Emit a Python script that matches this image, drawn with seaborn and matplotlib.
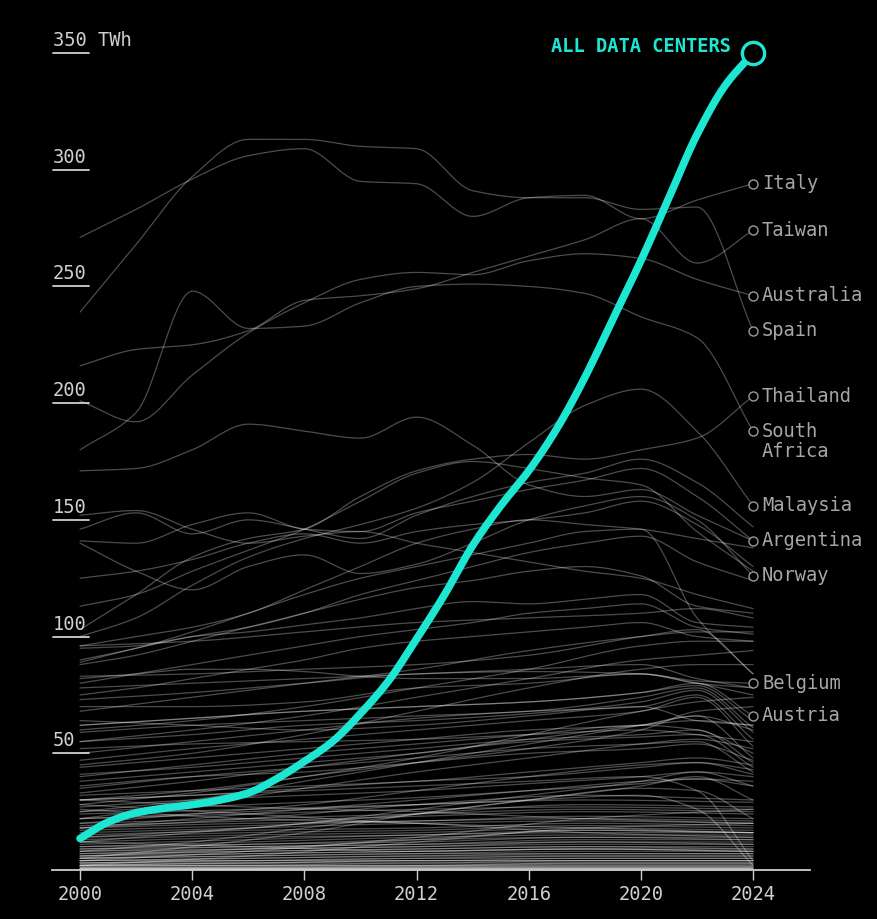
import numpy as np
import pandas as pd
import matplotlib
matplotlib.use("Agg")
import matplotlib.pyplot as plt
import seaborn as sns

# ---------------- data ----------------
years_total = list(range(2000, 2025))
all_data_centers = [13.5, 20.5, 24.5, 26.5, 28, 30, 33, 39, 46.5, 55, 67, 81, 99,
                    118, 139, 156, 171, 189, 211, 236, 261, 288, 315, 336, 350]

years_2 = list(range(2000, 2025, 2))
italy = [271, 283, 296, 306, 309, 295, 294, 280, 288, 289, 279, 287, 294]
spain = [239, 268, 297, 313, 313, 310, 309, 291, 288, 288, 283, 284, 231]
taiwan = [216, 223, 225, 231, 244, 246, 249, 256, 263, 270, 279, 260, 274]
australia = [201, 192, 212, 230, 243, 253, 256, 255, 261, 264, 262, 253, 246]
south_africa = [180, 196, 248, 232, 233, 243, 250, 251, 250, 247, 237, 228, 188]
thailand = [103, 118, 134, 142, 146, 160, 171, 176, 178, 176, 180, 185, 203]
malaysia = [100, 108, 122, 134, 142, 148, 155, 166, 183, 199, 206, 188, 156]
argentina = [171, 172, 180, 191, 188, 185, 194, 182, 165, 160, 163, 152, 141]
norway = [140, 128, 120, 130, 135, 127, 131, 140, 150, 156, 160, 150, 126]
belgium = [82, 84, 86, 86, 85, 83, 82, 82, 82, 83, 84, 81, 80]

mid_lines = [
    [146, 153, 144, 150, 146, 142, 152, 160, 166, 170, 176, 166, 147],
    [141, 140, 148, 153, 146, 145, 153, 158, 163, 167, 172, 160, 141],
    [113, 118, 128, 137, 146, 158, 170, 175, 172, 168, 165, 145, 128],
    [125, 128, 133, 140, 144, 140, 145, 148, 150, 153, 158, 148, 130],
    [96, 100, 104, 110, 120, 130, 140, 146, 150, 148, 146, 142, 138],
    [89, 95, 100, 104, 110, 118, 124, 130, 136, 140, 143, 132, 124],
    [152, 154, 146, 140, 143, 145, 140, 136, 132, 128, 125, 118, 112],
    [88, 92, 98, 104, 110, 116, 121, 124, 128, 130, 126, 113, 110],
    [95, 96, 100, 102, 105, 108, 112, 115, 114, 116, 118, 106, 104],
    [80, 84, 88, 92, 96, 100, 103, 106, 110, 112, 114, 104, 101],
    [75, 78, 82, 86, 90, 95, 98, 100, 102, 104, 106, 100, 98],
    [90, 95, 102, 110, 118, 125, 130, 135, 140, 145, 146, 108, 84],
]

years_low = [2000, 2004, 2008, 2012, 2016, 2020, 2022, 2024]
austria = [62, 65, 68, 70, 72, 76, 80, 66]
low_lines = [
    [83, 84, 86, 88, 92, 100, 103, 84],
    [78, 80, 82, 84, 86, 88, 82, 78],
    [73, 76, 80, 84, 85, 84, 80, 75],
    [62, 65, 68, 70, 72, 76, 79, 64],
    [59, 62, 64, 66, 68, 74, 78, 61],
    [55, 58, 62, 64, 67, 72, 77, 59],
    [50, 55, 60, 65, 68, 70, 75, 56],
    [47, 52, 56, 60, 64, 68, 74, 53],
    [44, 48, 52, 56, 60, 62, 66, 48],
    [41, 44, 48, 52, 56, 58, 60, 46],
    [38, 42, 46, 50, 55, 57, 58, 44],
    [35, 40, 44, 48, 52, 54, 55, 42],
    [33, 38, 44, 50, 56, 62, 64, 62],
    [30, 34, 40, 46, 52, 60, 68, 70],
    [28, 33, 40, 48, 58, 68, 72, 74],
    [25, 30, 38, 46, 54, 62, 66, 60],
    [22, 28, 35, 42, 48, 54, 56, 52],
    [45, 50, 58, 68, 78, 86, 88, 88],
    [55, 60, 66, 74, 82, 90, 92, 94],
    [60, 64, 70, 78, 86, 96, 98, 98],
    [68, 74, 80, 86, 94, 100, 102, 102],
    [70, 70, 72, 78, 80, 84, 80, 78],
    [52, 54, 55, 56, 58, 60, 58, 55],
    [40, 45, 50, 54, 58, 62, 60, 50],
    [36, 40, 42, 46, 50, 52, 54, 47],
    [32, 34, 36, 38, 42, 46, 48, 45],
    [30, 32, 35, 38, 40, 44, 46, 43],
    [27, 30, 32, 34, 37, 40, 42, 40],
    [25, 27, 29, 31, 34, 37, 39, 38],
    [20, 24, 28, 34, 40, 45, 46, 41],
    [18, 22, 26, 30, 34, 38, 39, 36],
    [12, 16, 20, 26, 32, 38, 42, 36],
    [8, 12, 18, 24, 30, 36, 40, 30],
    [5, 10, 16, 24, 30, 35, 34, 22],
    [30, 32, 34, 36, 38, 40, 34, 4],
    [22, 24, 26, 28, 30, 32, 26, 2],
    [96, 98, 102, 106, 108, 110, 112, 108],
    [64, 62, 60, 62, 66, 70, 64, 62],
]

years_6 = [2000, 2006, 2012, 2018, 2024]
bottom_lines = [
    [24, 26, 28, 30, 29], [22, 24, 26, 27, 26], [20, 22, 24, 26, 25],
    [19, 21, 23, 25, 24], [18, 20, 21, 23, 22], [17, 19, 21, 22, 21],
    [16, 18, 20, 21, 20], [15, 17, 18, 20, 19], [14, 16, 17, 19, 18],
    [13, 15, 16, 18, 17], [12, 14, 15, 17, 16], [11, 13, 15, 16, 16],
    [10, 12, 14, 15, 15], [10, 11, 13, 14, 14], [9, 11, 12, 14, 13],
    [9, 10, 11, 13, 13], [8, 10, 11, 12, 12], [8, 9, 10, 12, 11],
    [7, 9, 10, 11, 11], [7, 8, 9, 10, 10], [6, 8, 9, 10, 9],
    [6, 7, 8, 9, 9], [5, 7, 8, 9, 8], [5, 6, 7, 8, 8], [5, 6, 7, 7, 7],
    [4, 5, 6, 7, 7], [4, 5, 6, 6, 6], [4, 4, 5, 6, 6], [3, 4, 5, 5, 5],
    [3, 4, 4, 5, 5], [3, 3, 4, 4, 4], [2, 3, 4, 4, 4], [2, 3, 3, 4, 4],
    [2, 2, 3, 3, 3], [2, 2, 2, 3, 3], [1.5, 2, 2, 2.5, 2.5],
    [1.2, 1.5, 1.8, 2, 2], [1, 1.2, 1.5, 1.7, 1.7], [0.8, 1, 1.2, 1.4, 1.4],
    [0.6, 0.8, 1, 1.1, 1.1], [0.5, 0.6, 0.8, 0.9, 0.9], [0.4, 0.5, 0.6, 0.7, 0.7],
    [0.3, 0.4, 0.5, 0.6, 0.6], [0.2, 0.3, 0.4, 0.4, 0.4], [0.1, 0.2, 0.2, 0.3, 0.3],
    [28, 24, 20, 18, 16], [26, 22, 20, 16, 14], [4, 8, 14, 22, 26],
    [2, 6, 12, 18, 20], [12, 10, 8, 9, 8], [30, 27, 25, 22, 20],
    [18, 22, 28, 32, 30], [14, 18, 24, 28, 27], [6, 9, 13, 17, 16],
]

labeled = [
    ("Italy", years_2, italy), ("Taiwan", years_2, taiwan),
    ("Australia", years_2, australia), ("Spain", years_2, spain),
    ("Thailand", years_2, thailand), ("South\nAfrica", years_2, south_africa),
    ("Malaysia", years_2, malaysia), ("Argentina", years_2, argentina),
    ("Norway", years_2, norway), ("Belgium", years_2, belgium),
    ("Austria", years_low, austria),
]

x_ticks = [2000, 2004, 2008, 2012, 2016, 2020, 2024]
y_ticks = [50, 100, 150, 200, 250, 300, 350]
y_tick_labels = ["50", "100", "150", "200", "250", "300", "350 TWh"]


# ---------------- drawing helper: monotone curve shape ----------------
def curve(xv, yv, n=16):
    x = np.asarray(xv, float)
    y = np.asarray(yv, float)
    h = np.diff(x)
    d = np.diff(y) / h
    m = np.zeros_like(y)
    m[0], m[-1] = d[0], d[-1]
    for i in range(1, len(y) - 1):
        if d[i - 1] * d[i] <= 0:
            m[i] = 0.0
        else:
            w1 = 2 * h[i] + h[i - 1]
            w2 = h[i] + 2 * h[i - 1]
            m[i] = (w1 + w2) / (w1 / d[i - 1] + w2 / d[i])
    xs, ys = [], []
    t = np.linspace(0, 1, n, endpoint=False)
    h00 = 2 * t**3 - 3 * t**2 + 1
    h10 = t**3 - 2 * t**2 + t
    h01 = -2 * t**3 + 3 * t**2
    h11 = t**3 - t**2
    for i in range(len(h)):
        xs.append(x[i] + t * h[i])
        ys.append(h00 * y[i] + h10 * h[i] * m[i] + h01 * y[i + 1] + h11 * h[i] * m[i + 1])
    xs.append([x[-1]])
    ys.append([y[-1]])
    return np.concatenate(xs), np.concatenate(ys)


# ---------------- figure ----------------
sns.set_theme(style="dark")
plt.rcParams["font.family"] = ["DejaVu Sans Mono", "DejaVu Sans"]

CYAN = "#1de6d2"
TXT = "#cfcfcf"
LAB = "#a6a6a6"
FS = 13.5

fig = plt.figure(figsize=(8.77, 9.19), dpi=100, facecolor="black")
ax = fig.add_axes([52 / 877, 1 - 870 / 919, 758 / 877, 863.7 / 919])
ax.set_facecolor("black")

series = []
for name, yrs, vals in labeled:
    series.append((yrs, vals))
for vals in mid_lines:
    series.append((years_2, vals))
for vals in low_lines:
    series.append((years_low, vals))
for vals in bottom_lines:
    series.append((years_6, vals))

frames = []
for k, (yrs, vals) in enumerate(series):
    cx, cy = curve(yrs, vals)
    frames.append(pd.DataFrame({"year": cx, "twh": cy, "unit": k}))
df = pd.concat(frames, ignore_index=True)

sns.lineplot(data=df, x="year", y="twh", units="unit", estimator=None,
             color="white", alpha=0.3, lw=0.9, sort=False, legend=False, ax=ax)

tx, ty = curve(years_total, all_data_centers, n=8)
sns.lineplot(x=tx, y=ty, color=CYAN, lw=5.5, sort=False, ax=ax,
             solid_capstyle="round", zorder=10)
ax.plot([years_total[-1]], [all_data_centers[-1]], "o", ms=16, mfc="black",
        mec=CYAN, mew=2.4, zorder=11, clip_on=False)
ax.annotate("ALL DATA CENTERS", xy=(years_total[-1], all_data_centers[-1]),
            xytext=(-16, 5), textcoords="offset points", ha="right", va="center",
            color=CYAN, fontsize=FS, fontweight="bold", zorder=12)

# right-hand country labels
for name, yrs, vals in labeled:
    ax.plot([yrs[-1]], [vals[-1]], "o", ms=6.5, mfc="black", mec="#9a9a9a",
            mew=1.0, zorder=9, clip_on=False)
    first, *rest = name.split("\n")
    ax.annotate(first, xy=(yrs[-1], vals[-1]), xytext=(6.5, 0),
                textcoords="offset points", ha="left", va="center",
                color=LAB, fontsize=FS, annotation_clip=False)
    for j, extra in enumerate(rest):
        ax.annotate(extra, xy=(yrs[-1], vals[-1]), xytext=(6.5, -15 * (j + 1)),
                    textcoords="offset points", ha="left", va="center",
                    color=LAB, fontsize=FS, annotation_clip=False)

ax.set_xlim(1999.0, 2026.03)
ax.set_ylim(0, 370)

# y labels with underlines
for v, lab in zip(y_ticks, y_tick_labels):
    ax.plot([1999.04, 2000.32], [v, v], color=TXT, lw=1.3, clip_on=False, zorder=5)
    ax.annotate(lab, xy=(1999.04, v), xytext=(0, 5), textcoords="offset points",
                ha="left", va="baseline", color=TXT, fontsize=FS)

ax.set_yticks([])
ax.set_xticks(x_ticks)
ax.set_xticklabels([str(x) for x in x_ticks])
ax.tick_params(axis="x", colors=TXT, length=7, width=1.0, pad=4,
               labelsize=FS, bottom=True, direction="out")
ax.set_xlabel("")
ax.set_ylabel("")
ax.grid(False)
for s in ["left", "right", "top"]:
    ax.spines[s].set_visible(False)
ax.spines["bottom"].set_color(TXT)
ax.spines["bottom"].set_linewidth(1.3)
ax.spines["bottom"].set_zorder(8)

fig.savefig("out.png", dpi=100, facecolor="black")
